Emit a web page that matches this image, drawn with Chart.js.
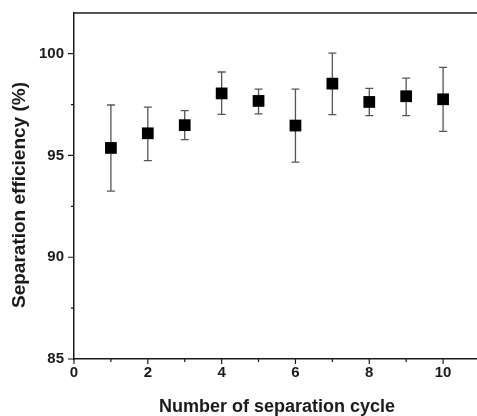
<!DOCTYPE html>
<html>
<head>
<meta charset="utf-8">
<script src="https://cdn.jsdelivr.net/npm/chart.js@4/dist/chart.umd.min.js"></script>
<style>
  html, body { margin: 0; padding: 0; background: #fff; overflow: hidden; }
  canvas { display: block; }
</style>
</head>
<body>
<canvas id="c" width="480" height="416"></canvas>
<script>
// ---- data ----
const cycles = [1, 2, 3, 4, 5, 6, 7, 8, 9, 10];
const efficiency = [95.37, 96.09, 96.49, 98.05, 97.68, 96.47, 98.53, 97.63, 97.91, 97.76];
const errUpper = [97.48, 97.38, 97.20, 99.10, 98.26, 98.26, 100.03, 98.30, 98.80, 99.33];
const errLower = [93.25, 94.75, 95.78, 97.02, 97.04, 94.67, 97.01, 96.96, 96.96, 96.18];
const xMajorTicks = [0, 2, 4, 6, 8, 10];
const xMinorTicks = [1, 3, 5, 7, 9];
const yMajorTicks = [85, 90, 95, 100];
const yMinorTicks = [87.5, 92.5, 97.5];
const xTitle = 'Number of separation cycle';
const yTitle = 'Separation efficiency (%)';

const axisColor = '#1a1a1a';

const framePlugin = {
  id: 'frame',
  beforeDatasetsDraw(chart) {
    const { ctx, scales: { x, y } } = chart;
    ctx.save();
    ctx.strokeStyle = '#555';
    ctx.lineWidth = 1.3;
    const cap = 4;
    for (let i = 0; i < cycles.length; i++) {
      const px = x.getPixelForValue(cycles[i]);
      const pt = y.getPixelForValue(errUpper[i]);
      const pb = y.getPixelForValue(errLower[i]);
      ctx.beginPath();
      ctx.moveTo(px, pt); ctx.lineTo(px, pb);
      ctx.moveTo(px - cap, pt); ctx.lineTo(px + cap, pt);
      ctx.moveTo(px - cap, pb); ctx.lineTo(px + cap, pb);
      ctx.stroke();
    }
    ctx.restore();
  },
  afterDraw(chart) {
    const { ctx, chartArea: a, scales: { x, y } } = chart;
    ctx.save();
    ctx.strokeStyle = axisColor;
    ctx.lineWidth = 1.5;
    ctx.beginPath();
    ctx.moveTo(a.left, a.top); ctx.lineTo(a.right, a.top);
    ctx.stroke();
    ctx.lineWidth = 1.2;
    ctx.beginPath();
    yMajorTicks.forEach(v => { const p = y.getPixelForValue(v); ctx.moveTo(a.left, p); ctx.lineTo(a.left - 6, p); });
    yMinorTicks.forEach(v => { const p = y.getPixelForValue(v); ctx.moveTo(a.left, p); ctx.lineTo(a.left - 3, p); });
    xMajorTicks.forEach(v => { const p = x.getPixelForValue(v); ctx.moveTo(p, a.bottom); ctx.lineTo(p, a.bottom + 5); });
    xMinorTicks.forEach(v => { const p = x.getPixelForValue(v); ctx.moveTo(p, a.bottom); ctx.lineTo(p, a.bottom + 3); });
    ctx.stroke();
    ctx.translate(20, 195);
    ctx.rotate(-Math.PI / 2);
    ctx.fillStyle = axisColor;
    ctx.font = 'bold 19px "Liberation Sans", Arial, sans-serif';
    ctx.textAlign = 'center';
    ctx.textBaseline = 'middle';
    ctx.fillText(yTitle, 0, 0);
    ctx.restore();
  }
};

new Chart(document.getElementById('c'), {
  type: 'scatter',
  data: {
    datasets: [{
      data: cycles.map((c, i) => ({ x: c, y: efficiency[i] })),
      pointStyle: 'rect',
      pointRadius: 8.3,
      pointHoverRadius: 8.3,
      pointBackgroundColor: '#000',
      pointBorderWidth: 0,
      showLine: false
    }]
  },
  options: {
    responsive: false,
    devicePixelRatio: 1,
    animation: false,
    events: [],
    layout: { autoPadding: false, padding: { top: 13, left: 0, right: 0, bottom: 0 } },
    plugins: { legend: { display: false }, tooltip: { enabled: false } },
    scales: {
      x: {
        type: 'linear',
        min: 0, max: 11,
        afterBuildTicks: s => { s.ticks = xMajorTicks.map(v => ({ value: v })); },
        afterFit: s => { s.height = 57; s.paddingLeft = 0; s.paddingRight = 0; },
        grid: { display: false, drawTicks: false, tickLength: 0 },
        border: { display: true, color: axisColor, width: 1.5 },
        ticks: {
          color: axisColor, padding: 5,
          font: { family: '"Liberation Sans", Arial, sans-serif', size: 15, weight: 'bold' }
        },
        title: {
          display: true, text: xTitle, color: axisColor,
          padding: { top: 0, bottom: 0 },
          font: { family: '"Liberation Sans", Arial, sans-serif', size: 18, weight: 'bold', lineHeight: 1 }
        }
      },
      y: {
        type: 'linear',
        min: 85, max: 102,
        afterBuildTicks: s => { s.ticks = yMajorTicks.map(v => ({ value: v })); },
        afterFit: s => { s.width = 74; s.paddingTop = 0; s.paddingBottom = 0; },
        grid: { display: false, drawTicks: false, tickLength: 0 },
        border: { display: true, color: axisColor, width: 1.5 },
        ticks: {
          color: axisColor, padding: 10,
          font: { family: '"Liberation Sans", Arial, sans-serif', size: 15, weight: 'bold' }
        }
      }
    }
  },
  plugins: [framePlugin]
});
</script>
</body>
</html>
